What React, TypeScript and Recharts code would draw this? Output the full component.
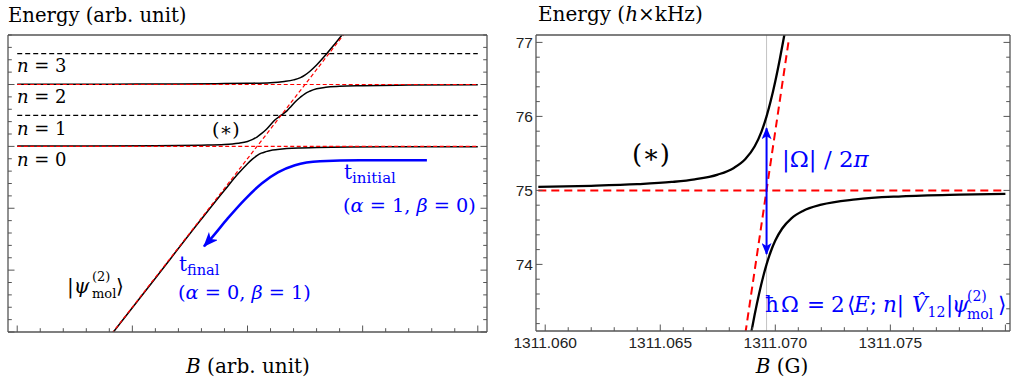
import { Line, LineChart, ReferenceLine, XAxis, YAxis } from 'recharts'

const SERIF = "'DejaVu Serif', 'Liberation Serif', serif"
const SANS = "'Liberation Sans', Arial, sans-serif"
const FRAME = '#555'
const BLUE = '#0000ff'
const RED = '#ff0000'

// ---------- left panel: dressed levels vs. molecular state (arb. units) ----------
const LEFT_B_DOMAIN = [-0.4, 20.4]
const LEFT_E_DOMAIN = [-6, 3.6]
const LEFT_B_TICKS = [0, 1, 2, 3, 4, 5, 6, 7, 8, 9, 10, 11, 12, 13, 14, 15, 16, 17, 18, 19, 20]
const LEFT_B_MAJOR = [0, 5, 10, 15, 20]
const LEFT_E_TICKS = [
  -6, -5.6, -5.2, -4.8, -4.4, -4, -3.6, -3.2, -2.8, -2.4, -2, -1.6, -1.2, -0.8, -0.4, 0, 0.4,
  0.8, 1.2, 1.6, 2, 2.4, 2.8, 3.2, 3.6,
]
const LEFT_E_MAJOR = [-6, -4, -2, 0, 2]

const LEVEL_B = [0, 20]
const COUPLED_LEVELS = [0, 2]
const UNCOUPLED_LEVELS = [1, 3]

const MOL_B = [4.1, 14.3]
const MOL_E = [-6.06, 3.73]

const LOWER_B = [4.0, 6.0, 8.0, 9.0, 9.6, 10.0, 10.2, 10.41, 10.6, 10.8, 11.0, 11.3, 11.7, 12.2, 13.0, 14.5, 17.0, 20.0]
const LOWER_E = [-6.17, -4.26, -2.35, -1.42, -0.88, -0.56, -0.42, -0.3, -0.22, -0.17, -0.13, -0.1, -0.07, -0.05, -0.04, -0.02, -0.01, -0.01]

const MIDDLE_B = [
  0, 3, 6, 8, 9, 9.6, 10.0, 10.2, 10.41, 10.6, 10.8, 11.0, 11.2, 11.45, 11.7, 11.9, 12.1, 12.3,
  12.49, 12.7, 13.0, 13.4, 14.0, 15.0, 17.0, 20.0,
]
const MIDDLE_E = [
  0.01, 0.01, 0.02, 0.04, 0.06, 0.1, 0.16, 0.22, 0.3, 0.41, 0.54, 0.7, 0.86, 1.0, 1.14, 1.3, 1.46,
  1.59, 1.7, 1.78, 1.86, 1.91, 1.94, 1.96, 1.98, 1.99,
]

const UPPER_B = [0, 4, 7, 9, 10, 11, 11.6, 12.0, 12.3, 12.49, 12.7, 13.0, 13.4, 13.8, 14.2, 14.6]
const UPPER_E = [2.01, 2.01, 2.02, 2.03, 2.04, 2.06, 2.1, 2.15, 2.22, 2.3, 2.42, 2.63, 2.96, 3.32, 3.69, 4.07]

// sweep path, listed from the arrow tip back to the start
const SWEEP_B = [8.11, 8.46, 9.15, 9.89, 10.63, 11.32, 12.06, 13.15, 14.88, 17.79]
const SWEEP_E = [-3.23, -2.94, -2.32, -1.71, -1.19, -0.84, -0.61, -0.48, -0.45, -0.45]

// ---------- right panel: the (*) crossing in physical units ----------
const RIGHT_B_DOMAIN = [1311.0596, 1311.0802]
const RIGHT_E_DOMAIN = [73.1, 77.1]
const RIGHT_B_TICKS = [
  1311.06, 1311.061, 1311.062, 1311.063, 1311.064, 1311.065, 1311.066, 1311.067, 1311.068,
  1311.069, 1311.07, 1311.071, 1311.072, 1311.073, 1311.074, 1311.075, 1311.076, 1311.077,
  1311.078, 1311.079, 1311.08,
]
const RIGHT_B_MAJOR = [1311.06, 1311.065, 1311.07, 1311.075, 1311.08]
const RIGHT_B_LABELED = [1311.06, 1311.065, 1311.07, 1311.075]
const RIGHT_E_TICKS = [
  73.2, 73.4, 73.6, 73.8, 74, 74.2, 74.4, 74.6, 74.8, 75, 75.2, 75.4, 75.6, 75.8, 76, 76.2, 76.4,
  76.6, 76.8, 77,
]
const RIGHT_E_MAJOR = [74, 75, 76, 77]

const CROSSING_B = 1311.06962
const ATOM_B = [1311.0597, 1311.08]
const ATOM_E = 75
const MOL_R_B = [1311.0687, 1311.07057]
const MOL_R_E = [73.07, 77.0]

const UPPER_R_B = [
  1311.0597, 1311.062, 1311.064, 1311.0655, 1311.0665, 1311.0675, 1311.0682, 1311.0687, 1311.0691,
  1311.0694, 1311.06962, 1311.0698, 1311.07, 1311.0702, 1311.0704, 1311.0705,
]
const UPPER_R_E = [
  75.047, 75.062, 75.084, 75.114, 75.149, 75.214, 75.304, 75.424, 75.593, 75.795, 76.0, 76.207,
  76.476, 76.78, 77.112, 77.286,
]
const LOWER_R_B = [
  1311.0687, 1311.0689, 1311.0691, 1311.0693, 1311.0695, 1311.06962, 1311.0698, 1311.07, 1311.0703,
  1311.0707, 1311.0712, 1311.072, 1311.0735, 1311.0755, 1311.078, 1311.08,
]
const LOWER_R_E = [
  72.644, 72.99, 73.315, 73.609, 73.866, 74.0, 74.171, 74.322, 74.485, 74.622, 74.722, 74.807,
  74.879, 74.92, 74.943, 74.954,
]
const GAP_ARROW_E = [74.14, 75.84]

const pts = (bs: number[], es: number[]) => bs.map((b, i) => ({ b, e: es[i] }))
const flat = (bs: number[], e: number) => bs.map((b) => ({ b, e }))

type Side = 'top' | 'bottom' | 'left' | 'right'

// inward frame ticks; labels (if any) sit outside the frame
function frameTick(side: Side, majors: number[], labeled: number[] = [], digits = 0) {
  return function FrameTick(props: any) {
    const { x, y, payload } = props
    const v = Number(payload?.value)
    const near = (list: number[]) => list.some((m) => Math.abs(m - v) < 1e-7)
    const len = near(majors) ? 6.5 : 3.8
    let x2 = x
    let y2 = y
    if (side === 'bottom') y2 = y - len
    if (side === 'top') y2 = y + len
    if (side === 'left') x2 = x + len
    if (side === 'right') x2 = x - len
    const label = near(labeled) ? v.toFixed(digits) : null
    return (
      <g>
        <line x1={x} y1={y} x2={x2} y2={y2} stroke={FRAME} strokeWidth={1} />
        {label && side === 'bottom' ? (
          <text x={x} y={y + 17} textAnchor="middle" fontFamily={SANS} fontSize={15.5} fill="#222">
            {label}
          </text>
        ) : null}
        {label && side === 'left' ? (
          <text x={x - 3} y={y + 5.5} textAnchor="end" fontFamily={SANS} fontSize={15.5} fill="#222">
            {label}
          </text>
        ) : null}
      </g>
    )
  }
}

const axisLine = { stroke: FRAME, strokeWidth: 1.3 }

// the four sides of a framed plot; axes need a 1px box or Recharts skips them
function Frame({ bDomain, eDomain, bTicks, eTicks, bMajor, eMajor, bLabeled = [], eLabeled = [], bDigits = 0 }: any) {
  return [
    <XAxis
      key="bottom"
      dataKey="b"
      type="number"
      domain={bDomain}
      allowDataOverflow
      ticks={bTicks}
      interval={0}
      height={1}
      tickSize={0}
      tickMargin={0}
      tickLine={false}
      axisLine={axisLine}
      tick={frameTick('bottom', bMajor, bLabeled, bDigits)}
    />,
    <XAxis
      key="top"
      xAxisId="top"
      orientation="top"
      type="number"
      domain={bDomain}
      allowDataOverflow
      ticks={bTicks}
      interval={0}
      height={1}
      tickSize={0}
      tickMargin={0}
      tickLine={false}
      axisLine={axisLine}
      tick={frameTick('top', bMajor)}
    />,
    <YAxis
      key="left"
      type="number"
      domain={eDomain}
      allowDataOverflow
      ticks={eTicks}
      interval={0}
      width={1}
      tickSize={0}
      tickMargin={0}
      tickLine={false}
      axisLine={axisLine}
      tick={frameTick('left', eMajor, eLabeled, 0)}
    />,
    <YAxis
      key="right"
      yAxisId="right"
      orientation="right"
      type="number"
      domain={eDomain}
      allowDataOverflow
      ticks={eTicks}
      interval={0}
      width={1}
      tickSize={0}
      tickMargin={0}
      tickLine={false}
      axisLine={axisLine}
      tick={frameTick('right', eMajor)}
    />,
  ]
}

function LeftPanel() {
  return (
    <LineChart width={495} height={382} margin={{ top: 34, right: 7, bottom: 49, left: 7 }}>
      {Frame({
        bDomain: LEFT_B_DOMAIN,
        eDomain: LEFT_E_DOMAIN,
        bTicks: LEFT_B_TICKS,
        eTicks: LEFT_E_TICKS,
        bMajor: LEFT_B_MAJOR,
        eMajor: LEFT_E_MAJOR,
      })}

      {/* adiabatic curves */}
      <Line data={pts(UPPER_B, UPPER_E)} dataKey="e" type="monotone" stroke="#000" strokeWidth={1.5} dot={false} activeDot={false} isAnimationActive={false} />
      <Line data={pts(MIDDLE_B, MIDDLE_E)} dataKey="e" type="monotone" stroke="#000" strokeWidth={1.5} dot={false} activeDot={false} isAnimationActive={false} />
      <Line data={pts(LOWER_B, LOWER_E)} dataKey="e" type="monotone" stroke="#000" strokeWidth={1.5} dot={false} activeDot={false} isAnimationActive={false} />

      {/* bare levels */}
      {UNCOUPLED_LEVELS.map((n) => (
        <Line key={`u${n}`} data={flat(LEVEL_B, n)} dataKey="e" type="linear" stroke="#000" strokeWidth={1.2} strokeDasharray="5 3" dot={false} activeDot={false} isAnimationActive={false} />
      ))}
      {COUPLED_LEVELS.map((n) => (
        <Line key={`c${n}`} data={flat(LEVEL_B, n)} dataKey="e" type="linear" stroke={RED} strokeWidth={1.2} strokeDasharray="4 2.5" dot={false} activeDot={false} isAnimationActive={false} />
      ))}
      <Line data={pts(MOL_B, MOL_E)} dataKey="e" type="linear" stroke={RED} strokeWidth={1.2} strokeDasharray="4 2.5" dot={false} activeDot={false} isAnimationActive={false} />

      {/* field sweep */}
      <Line data={pts(SWEEP_B, SWEEP_E)} dataKey="e" type="monotone" stroke={BLUE} strokeWidth={2.5} markerStart="url(#sweepHead)" dot={false} activeDot={false} isAnimationActive={false} />
    </LineChart>
  )
}

function RightPanel() {
  return (
    <LineChart width={522} height={382} margin={{ top: 34, right: 6, bottom: 50, left: 40 }}>
      {Frame({
        bDomain: RIGHT_B_DOMAIN,
        eDomain: RIGHT_E_DOMAIN,
        bTicks: RIGHT_B_TICKS,
        eTicks: RIGHT_E_TICKS,
        bMajor: RIGHT_B_MAJOR,
        eMajor: RIGHT_E_MAJOR,
        bLabeled: RIGHT_B_LABELED,
        eLabeled: RIGHT_E_MAJOR,
        bDigits: 3,
      })}

      <ReferenceLine x={CROSSING_B} stroke="#c4c4c4" strokeWidth={1} />

      <Line data={pts(UPPER_R_B, UPPER_R_E)} dataKey="e" type="monotone" stroke="#000" strokeWidth={2.3} dot={false} activeDot={false} isAnimationActive={false} />
      <Line data={pts(LOWER_R_B, LOWER_R_E)} dataKey="e" type="monotone" stroke="#000" strokeWidth={2.3} dot={false} activeDot={false} isAnimationActive={false} />

      <Line data={flat(ATOM_B, ATOM_E)} dataKey="e" type="linear" stroke={RED} strokeWidth={2} strokeDasharray="8 5" dot={false} activeDot={false} isAnimationActive={false} />
      <Line data={pts(MOL_R_B, MOL_R_E)} dataKey="e" type="linear" stroke={RED} strokeWidth={2} strokeDasharray="8 5" dot={false} activeDot={false} isAnimationActive={false} />

      {/* splitting |Ω|/2π */}
      <Line data={pts([CROSSING_B, CROSSING_B], GAP_ARROW_E)} dataKey="e" type="linear" stroke={BLUE} strokeWidth={2} markerStart="url(#gapHead)" markerEnd="url(#gapHead)" dot={false} activeDot={false} isAnimationActive={false} />
    </LineChart>
  )
}

export default function App() {
  return (
    <div style={{ position: 'absolute', left: 0, top: 0, width: 1017, height: 382, background: '#fff', overflow: 'hidden' }}>
      <svg width={0} height={0} style={{ position: 'absolute' }}>
        <defs>
          <marker id="sweepHead" markerUnits="userSpaceOnUse" viewBox="0 0 15 12" markerWidth={15} markerHeight={12} refX={14} refY={6} orient="auto-start-reverse">
            <path d="M0,0 L15,6 L0,12 L4,6 Z" fill={BLUE} />
          </marker>
          <marker id="gapHead" markerUnits="userSpaceOnUse" viewBox="0 0 12 10" markerWidth={12} markerHeight={10} refX={11} refY={5} orient="auto-start-reverse">
            <path d="M0,0 L12,5 L0,10 L3,5 Z" fill={BLUE} />
          </marker>
        </defs>
      </svg>

      <div style={{ position: 'absolute', left: 0, top: 0 }}>
        <LeftPanel />
      </div>
      <div style={{ position: 'absolute', left: 495, top: 0 }}>
        <RightPanel />
      </div>

      <svg width={1017} height={382} style={{ position: 'absolute', left: 0, top: 0, pointerEvents: 'none' }} fontFamily={SERIF}>
        {/* left panel text */}
        <text x={8} y={22} fontSize={19.6}>Energy (arb. unit)</text>
        <text x={17} y={72} fontSize={18}><tspan fontStyle="italic">n</tspan> = 3</text>
        <text x={17} y={103} fontSize={18}><tspan fontStyle="italic">n</tspan> = 2</text>
        <text x={17} y={135} fontSize={18}><tspan fontStyle="italic">n</tspan> = 1</text>
        <text x={17} y={166} fontSize={18}><tspan fontStyle="italic">n</tspan> = 0</text>
        <text x={212} y={136} fontSize={19}>(∗)</text>

        <text x={344} y={179} fontSize={20} fill={BLUE}>t<tspan fontSize={15} dy={4}>initial</tspan></text>
        <text x={343} y={212} fontSize={19.3} fill={BLUE}>(<tspan fontStyle="italic">α</tspan> = 1, <tspan fontStyle="italic">β</tspan> = 0)</text>
        <text x={179} y={271} fontSize={20} fill={BLUE}>t<tspan fontSize={14.5} dy={4}>final</tspan></text>
        <text x={178} y={299} fontSize={19.3} fill={BLUE}>(<tspan fontStyle="italic">α</tspan> = 0, <tspan fontStyle="italic">β</tspan> = 1)</text>

        <text x={67} y={293} fontSize={20}>|<tspan fontStyle="italic">ψ</tspan></text>
        <text x={92} y={281} fontSize={13}>(2)</text>
        <text x={92} y={298} fontSize={13}>mol</text>
        <text x={116} y={293} fontSize={20}>⟩</text>

        <text x={248} y={373} fontSize={20} textAnchor="middle"><tspan fontStyle="italic">B</tspan> (arb. unit)</text>

        {/* right panel text */}
        <text x={538} y={21} fontSize={20}>Energy (<tspan fontStyle="italic">h</tspan>×kHz)</text>
        <text x={632} y={163} fontSize={26}>(∗)</text>
        <text x={782} y={167} fontSize={23} fill={BLUE}>|Ω| / 2<tspan fontStyle="italic">π</tspan></text>
        <text y={312} fontSize={21.5} fill={BLUE}>
          <tspan x={765}>ħ</tspan>
          <tspan x={781}>Ω</tspan>
          <tspan x={807}>=</tspan>
          <tspan x={831}>2</tspan>
          <tspan x={847}>⟨</tspan>
          <tspan x={854} fontStyle="italic">E</tspan>
          <tspan>;</tspan>
          <tspan x={883} fontStyle="italic">n</tspan>
          <tspan>|</tspan>
          <tspan x={912} fontStyle="italic">V̂</tspan>
          <tspan fontSize={14} dy={5}>12</tspan>
          <tspan x={946} dy={-5}>|</tspan>
          <tspan x={952} fontStyle="italic">ψ</tspan>
          <tspan x={967} y={301} fontSize={14}>(2)</tspan>
          <tspan x={967} y={319} fontSize={14}>mol</tspan>
          <tspan x={998} y={312}>⟩</tspan>
        </text>
        <text x={782} y={373} fontSize={20} textAnchor="middle"><tspan fontStyle="italic">B</tspan> (G)</text>
      </svg>
    </div>
  )
}
